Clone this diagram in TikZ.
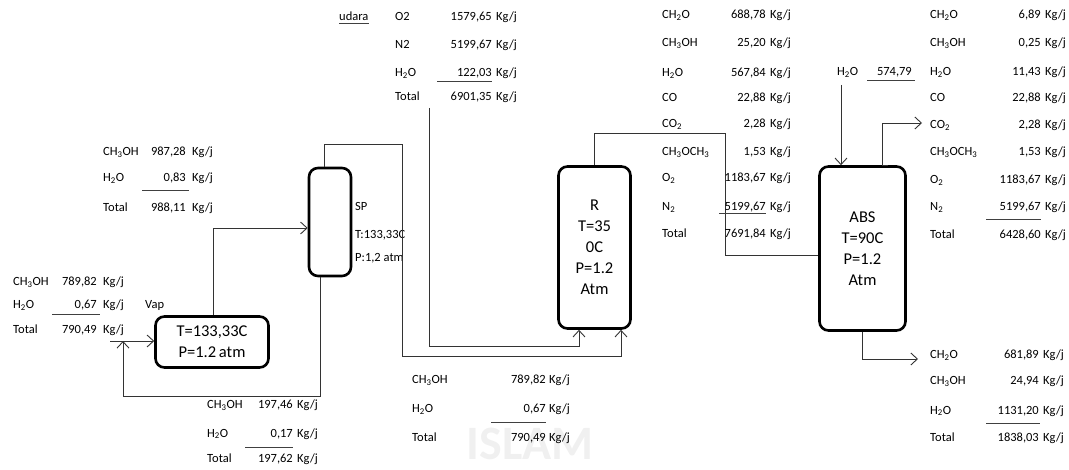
\documentclass[tikz,border=0pt]{standalone}
\usepackage{fontspec}
\setmainfont{Carlito}
\usetikzlibrary{arrows.meta,calc}

\begin{document}
\begin{tikzpicture}[x=1pt,y=-1pt,
  every node/.style={inner sep=0pt},
  lab/.style={anchor=west,font=\fontsize{12.5}{14}\selectfont,text height=8pt,text depth=0pt,text=black},
  val/.style={lab,anchor=east},
  unit/.style={draw=black,line width=2.6pt,rounded corners=9pt,font=\fontsize{16.5}{21}\selectfont,align=center},
  flow/.style={draw=black!80,line width=0.9pt},
  arr/.style={flow,-{Straight Barb[length=6.5pt,width=12pt]}},
  rule/.style={draw=black!75,line width=0.9pt}]
  \useasboundingbox (0,0) rectangle (1069,470);
  \node[text=black!6,font=\fontsize{48}{48}\selectfont\bfseries,text height=31pt,text depth=0pt] (mark) at (530,444) {ISLAM};

  \node[unit,minimum width=113,minimum height=51] (vap) at (212,342) {T=133,33C\\P=1.2\,atm};
  \node[unit,minimum width=42,minimum height=108] (sp) at (330,222) {};
  \node[unit,minimum width=72,minimum height=162] (r) at (594.5,247.5) {R\\T=35\\0C\\P=1.2\\Atm};
  \node[unit,minimum width=86,minimum height=164] (abs) at (862.5,248.5) {ABS\\T=90C\\P=1.2\\Atm};

  \node[lab] (splab) at (355,207) {SP};
  \node[lab] (spt) at (355,235) {T:133,33C};
  \node[lab] (spp) at (355,258) {P:1,2 atm};
  \node[lab] (vaplab) at (145,305) {Vap};

  \coordinate (feedin) at (110,341);
  \coordinate (rcy) at (123,396);
  \coordinate (sptop) at (402,144);
  \coordinate (spdn) at (402,356);
  \coordinate (airin) at (429,108);
  \coordinate (airdn) at (429,346);
  \coordinate (rtop) at (725,133);
  \coordinate (h2oin) at (841,85);
  \coordinate (gasout) at (922,123);
  \coordinate (liqout) at (918,359);

  \draw[arr] (feedin) -- (feedin -| vap.west);
  \draw[arr] ([xshift=-10pt]sp.south) |- (rcy) -- (rcy |- feedin);
  \draw[arr] ([xshift=1pt]vap.north) |- ([yshift=-6pt]sp.west);
  \draw[arr] ([xshift=-6pt]sp.north) |- (sptop) -- (spdn) -| ([xshift=26.5pt]r.south);
  \draw[arr] (airin) -- (airdn) -| ([xshift=-15.5pt]r.south);
  \draw[flow] (r.north) |- (rtop) |- ([yshift=-6.5pt]abs.west);
  \draw[arr] (h2oin) -- (h2oin |- abs.north);
  \draw[arr] ([xshift=25pt]abs.north) -- ([xshift=19.5pt]abs.north) |- (gasout);
  \draw[arr] (abs.south) |- (liqout);

  \foreach \yy/\ch/\amt [count=\i] in {152/CH\textsubscript{3}OH/{987,28},178/H\textsubscript{2}O/{0,83},208/Total/{988,11}}{
    \node[lab] (ta-l\i) at (103,\yy) {\ch};
    \node[val] (ta-v\i) at (186,\yy) {\amt};
    \node[lab] (ta-u\i) at (192,\yy) {Kg/j};
  }
  \draw[rule] (142,190) -- (189,190);

  \foreach \yy/\ch/\amt [count=\i] in {282/CH\textsubscript{3}OH/{789,82},305/H\textsubscript{2}O/{0,67},330/Total/{790,49}}{
    \node[lab] (tb-l\i) at (13,\yy) {\ch};
    \node[val] (tb-v\i) at (97,\yy) {\amt};
    \node[lab] (tb-u\i) at (103,\yy) {Kg/j};
  }
  \draw[rule] (52,314) -- (100,314);

  \foreach \yy/\ch/\amt [count=\i] in {405/CH\textsubscript{3}OH/{197,46},433/H\textsubscript{2}O/{0,17},458/Total/{197,62}}{
    \node[lab] (tc-l\i) at (207,\yy) {\ch};
    \node[val] (tc-v\i) at (293,\yy) {\amt};
    \node[lab] (tc-u\i) at (297,\yy) {Kg/j};
  }
  \draw[rule] (245,447) -- (293,447);

  \foreach \yy/\ch/\amt [count=\i] in {380/CH\textsubscript{3}OH/{789,82},409/H\textsubscript{2}O/{0,67},438/Total/{790,49}}{
    \node[lab] (td-l\i) at (412,\yy) {\ch};
    \node[val] (td-v\i) at (546,\yy) {\amt};
    \node[lab] (td-u\i) at (549,\yy) {Kg/j};
  }
  \draw[rule] (491,422) -- (546,422);

  \node[lab] (udara) at (339,17) {udara};
  \draw[rule,line width=0.7pt] ([yshift=-2pt]udara.south west) -- ([yshift=-2pt]udara.south east);
  \foreach \yy/\ch/\amt [count=\i] in {17/O2/{1579,65},45/N2/{5199,67},73/H\textsubscript{2}O/{122,03},97/Total/{6901,35}}{
    \node[lab] (te-l\i) at (395,\yy) {\ch};
    \node[val] (te-v\i) at (492,\yy) {\amt};
    \node[lab] (te-u\i) at (496,\yy) {Kg/j};
  }
  \draw[rule] (437,81) -- (492,81);

  \foreach \yy/\ch/\amt [count=\i] in {15/CH\textsubscript{2}O/{688,78},43/CH\textsubscript{3}OH/{25,20},73/H\textsubscript{2}O/{567,84},98/CO/{22,88},124/CO\textsubscript{2}/{2,28},152/CH\textsubscript{3}OCH\textsubscript{3}/{1,53},178/O\textsubscript{2}/{1183,67},207/N\textsubscript{2}/{5199,67},234/Total/{7691,84}}{
    \node[lab] (tf-l\i) at (662,\yy) {\ch};
    \node[val] (tf-v\i) at (766,\yy) {\amt};
    \node[lab] (tf-u\i) at (770,\yy) {Kg/j};
  }
  \draw[rule] (719,213) -- (766,213);

  \node[lab] (wlab) at (837,72) {H\textsubscript{2}O};
  \node[val] (wamt) at (912,72) {574,79};
  \draw[rule] (867,80) -- (915,80);

  \foreach \yy/\ch/\amt [count=\i] in {15/CH\textsubscript{2}O/{6,89},43/CH\textsubscript{3}OH/{0,25},72/H\textsubscript{2}O/{11,43},98/CO/{22,88},125/CO\textsubscript{2}/{2,28},152/CH\textsubscript{3}OCH\textsubscript{3}/{1,53},180/O\textsubscript{2}/{1183,67},207/N\textsubscript{2}/{5199,67},235/Total/{6428,60}}{
    \node[lab] (tg-l\i) at (930,\yy) {\ch};
    \node[val] (tg-v\i) at (1041,\yy) {\amt};
    \node[lab] (tg-u\i) at (1045,\yy) {Kg/j};
  }
  \draw[rule] (986,219) -- (1041,219);

  \foreach \yy/\ch/\amt [count=\i] in {355/CH\textsubscript{2}O/{681,89},381/CH\textsubscript{3}OH/{24,94},410/H\textsubscript{2}O/{1131,20},438/Total/{1838,03}}{
    \node[lab] (th-l\i) at (930,\yy) {\ch};
    \node[val] (th-v\i) at (1039,\yy) {\amt};
    \node[lab] (th-u\i) at (1043,\yy) {Kg/j};
  }
  \draw[rule] (986,423) -- (1040,423);
\end{tikzpicture}
\end{document}
